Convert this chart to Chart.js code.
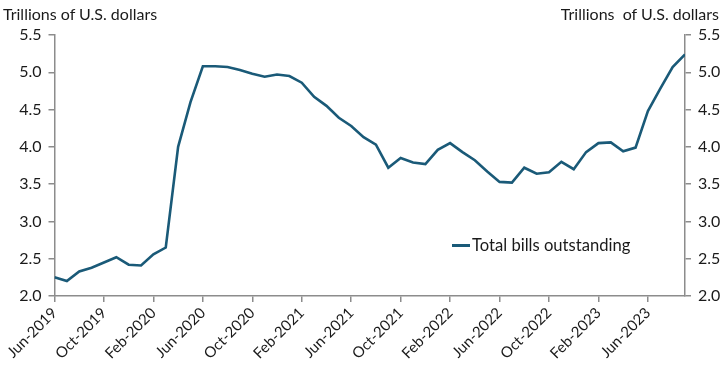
<!DOCTYPE html>
<html>
<head>
<meta charset="utf-8">
<script src="https://cdn.jsdelivr.net/npm/chart.js@4.4.0/dist/chart.umd.min.js"></script>
<style>
  body { margin: 0; background: #fff; font-family: Lato, sans-serif; }
  #wrap { position: relative; width: 725px; height: 371px; }
  .unit { position: absolute; top: 4px; font-size: 16px; color: #1a1a1a; white-space: pre; }
  #legend { position: absolute; left: 452px; top: 235px; font-size: 16.6px; color: #1a1a1a; display: flex; align-items: center; }
  #legend .swatch { display: inline-block; width: 18px; height: 3px; background: #1a5a78; margin-right: 2px; }
</style>
</head>
<body>
<div id="wrap">
  <canvas id="chart" width="725" height="371"></canvas>
  <div class="unit" style="left:3px">Trillions of U.S. dollars</div>
  <div class="unit" style="right:6px">Trillions  of U.S. dollars</div>
  <div id="legend"><span class="swatch"></span>Total bills outstanding</div>
</div>
<script>
// monthly, Jun-2019 .. Sep-2023
const months = [
  'Jun-2019','Jul-2019','Aug-2019','Sep-2019','Oct-2019','Nov-2019','Dec-2019',
  'Jan-2020','Feb-2020','Mar-2020','Apr-2020','May-2020','Jun-2020','Jul-2020','Aug-2020','Sep-2020','Oct-2020','Nov-2020','Dec-2020',
  'Jan-2021','Feb-2021','Mar-2021','Apr-2021','May-2021','Jun-2021','Jul-2021','Aug-2021','Sep-2021','Oct-2021','Nov-2021','Dec-2021',
  'Jan-2022','Feb-2022','Mar-2022','Apr-2022','May-2022','Jun-2022','Jul-2022','Aug-2022','Sep-2022','Oct-2022','Nov-2022','Dec-2022',
  'Jan-2023','Feb-2023','Mar-2023','Apr-2023','May-2023','Jun-2023','Jul-2023','Aug-2023','Sep-2023'
];

// total bills outstanding, trillions of U.S. dollars
const bills = [
  2.25, 2.20, 2.33, 2.38, 2.45, 2.52, 2.42,
  2.41, 2.56, 2.65, 4.00, 4.60, 5.08, 5.08, 5.07, 5.03, 4.98, 4.94, 4.97,
  4.95, 4.86, 4.67, 4.55, 4.39, 4.28, 4.13, 4.03, 3.72, 3.85, 3.79, 3.77,
  3.96, 4.05, 3.93, 3.82, 3.67, 3.53, 3.52, 3.72, 3.64, 3.66, 3.80, 3.70,
  3.93, 4.05, 4.06, 3.94, 3.99, 4.48, 4.78, 5.07, 5.24
];

const yMin = 2.0, yMax = 5.5, yStep = 0.5;
const labelEvery = 4;

const axisColor = '#8c8c8c';
const textColor = '#1a1a1a';
const lineColor = '#1a5a78';

const yAxis = (pos, width) => ({
  position: pos,
  min: yMin,
  max: yMax,
  ticks: {
    stepSize: yStep,
    color: textColor,
    font: { family: 'Lato', size: 16 },
    padding: 7,
    callback: v => v.toFixed(1)
  },
  grid: { drawOnChartArea: false, drawTicks: true, tickLength: 6, color: axisColor, lineWidth: 1.5 },
  border: { color: axisColor, width: 1.5 },
  afterFit: s => { s.width = width; }
});

new Chart(document.getElementById('chart'), {
  type: 'line',
  data: {
    datasets: [{
      label: 'Total bills outstanding',
      data: bills.map((v, i) => ({ x: i, y: v })),
      borderColor: lineColor,
      borderWidth: 2.6,
      pointRadius: 0,
      tension: 0,
      yAxisID: 'y'
    }]
  },
  options: {
    responsive: false,
    animation: false,
    layout: { padding: { top: 35 } },
    plugins: { legend: { display: false }, tooltip: { enabled: false } },
    scales: {
      x: {
        type: 'linear',
        min: 0,
        max: months.length - 1,
        afterBuildTicks: s => { s.ticks = s.ticks.filter(t => t.value % labelEvery === 0); },
        ticks: {
          stepSize: labelEvery,
          autoSkip: false,
          maxRotation: 45,
          minRotation: 45,
          color: textColor,
          font: { family: 'Lato', size: 15 },
          padding: 2,
          callback: v => months[v] || ''
        },
        grid: { drawOnChartArea: false, drawTicks: true, tickLength: 6, color: axisColor, lineWidth: 1.5 },
        border: { color: axisColor, width: 1.5 },
        afterFit: s => { s.height = 75; }
      },
      y: yAxis('left', 54.5),
      y2: yAxis('right', 40)
    }
  }
});
</script>
</body>
</html>
